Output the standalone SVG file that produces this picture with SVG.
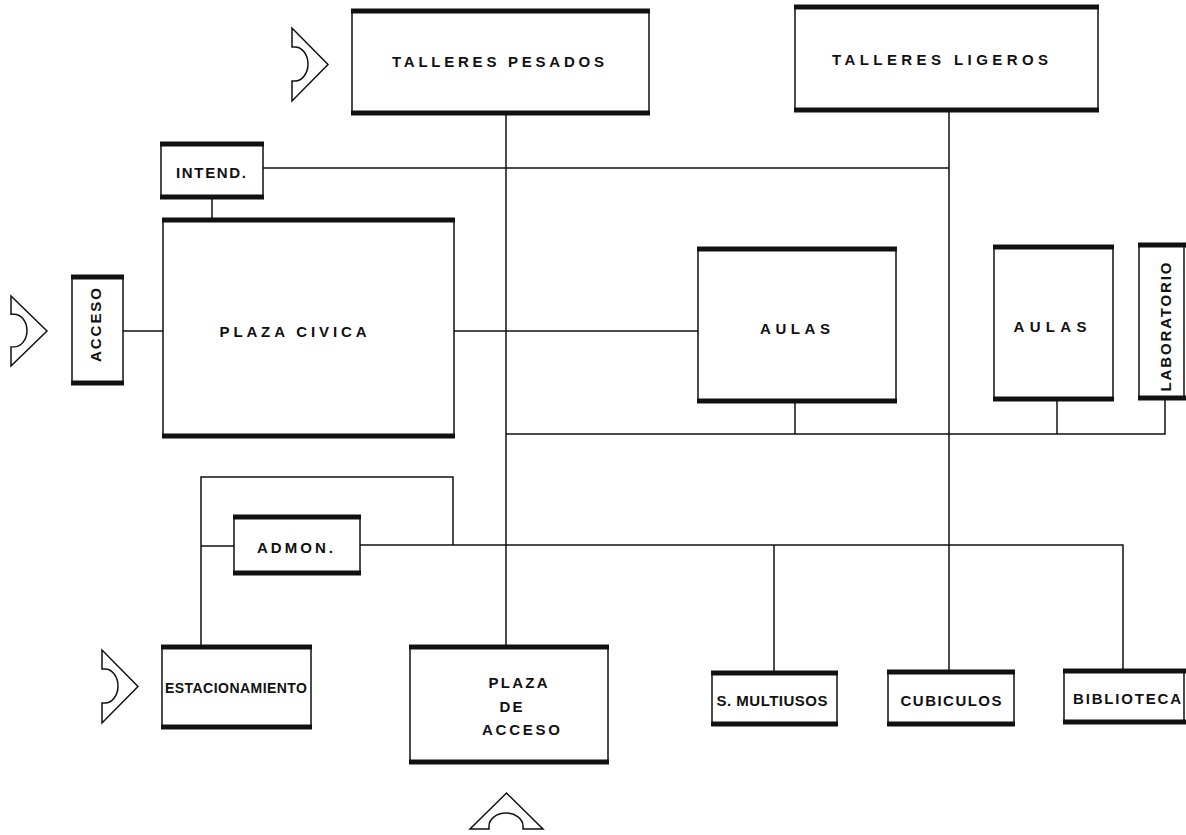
<svg xmlns="http://www.w3.org/2000/svg" width="1186" height="835" viewBox="0 0 1186 835">
<defs>
<style>
.box{fill:#fff;stroke:#111;stroke-width:1.5}
.bar{stroke:#111;stroke-width:5;stroke-linecap:butt}
.lbl{font-family:"Liberation Sans",Arial,sans-serif;font-weight:bold;font-size:15px;fill:#111;text-anchor:middle}
.cn{fill:none;stroke:#111;stroke-width:1.5}
.ent{fill:#fff;stroke:#111;stroke-width:1.5;stroke-linejoin:miter}
</style>
<path id="entry" d="M0,0 L0,19 L3,19 A13,17 0 0 1 3,53 L0,53 L0,73 L36,36.5 Z"/>
</defs>
<rect width="1186" height="835" fill="#fff"/>

<g id="connectors">
<path class="cn" d="M506,113 V647"/>
<path class="cn" d="M949,110 V672"/>
<path class="cn" d="M263,168 H949"/>
<path class="cn" d="M212,197 V220"/>
<path class="cn" d="M123,331 H163"/>
<path class="cn" d="M454,331 H698"/>
<path class="cn" d="M506,434 H1165 V398"/>
<path class="cn" d="M795,401 V434"/>
<path class="cn" d="M1057,399 V434"/>
<path class="cn" d="M201,647 V477 H453 V545"/>
<path class="cn" d="M201,546 H234"/>
<path class="cn" d="M360,545 H1123 V671"/>
<path class="cn" d="M774,545 V673"/>
</g>

<g id="entries">
<use href="#entry" class="ent" transform="translate(292,28)"/>
<use href="#entry" class="ent" transform="translate(11,296) scale(1,0.96)"/>
<use href="#entry" class="ent" transform="translate(102,650)"/>
<use href="#entry" class="ent" transform="translate(470,829) rotate(-90)"/>
</g>

<g id="talleres-pesados">
<rect class="box" x="352" y="11" width="297" height="102"/>
<line class="bar" x1="351" y1="11" x2="650" y2="11"/><line class="bar" x1="351" y1="113" x2="650" y2="113"/>
<text class="lbl" x="498" y="67" textLength="212" lengthAdjust="spacing">TALLERES PESADOS</text>
</g>

<g id="talleres-ligeros">
<rect class="box" x="795" y="7" width="303" height="103"/>
<line class="bar" x1="794" y1="7" x2="1099" y2="7"/><line class="bar" x1="794" y1="110" x2="1099" y2="110"/>
<text class="lbl" x="940" y="65" textLength="216" lengthAdjust="spacing">TALLERES LIGEROS</text>
</g>

<g id="intend">
<rect class="box" x="161" y="144" width="102" height="53"/>
<line class="bar" x1="160" y1="144" x2="264" y2="144"/><line class="bar" x1="160" y1="197" x2="264" y2="197"/>
<text class="lbl" x="211" y="178" textLength="70" lengthAdjust="spacing">INTEND.</text>
</g>

<g id="plaza-civica">
<rect class="box" x="163" y="220" width="291" height="216"/>
<line class="bar" x1="162" y1="220" x2="455" y2="220"/><line class="bar" x1="162" y1="436" x2="455" y2="436"/>
<text class="lbl" x="293" y="337" textLength="147" lengthAdjust="spacing">PLAZA  CIVICA</text>
</g>

<g id="acceso">
<rect class="box" x="72" y="277" width="51" height="106"/>
<line class="bar" x1="71" y1="277" x2="124" y2="277"/><line class="bar" x1="71" y1="383" x2="124" y2="383"/>
<text class="lbl" transform="translate(96,325) rotate(-90)" x="0" y="5" textLength="74" lengthAdjust="spacing">ACCESO</text>
</g>

<g id="aulas-1">
<rect class="box" x="698" y="249" width="198" height="152"/>
<line class="bar" x1="697" y1="249" x2="897" y2="249"/><line class="bar" x1="697" y1="401" x2="897" y2="401"/>
<text class="lbl" x="795" y="334" textLength="70" lengthAdjust="spacing">AULAS</text>
</g>

<g id="aulas-2">
<rect class="box" x="994" y="247" width="119" height="152"/>
<line class="bar" x1="993" y1="247" x2="1114" y2="247"/><line class="bar" x1="993" y1="399" x2="1114" y2="399"/>
<text class="lbl" x="1050" y="332" textLength="73" lengthAdjust="spacing">AULAS</text>
</g>

<g id="laboratorio">
<rect class="box" x="1139" y="245" width="45" height="153"/>
<line class="bar" x1="1138" y1="245" x2="1186" y2="245"/><line class="bar" x1="1138" y1="398" x2="1186" y2="398"/>
<text class="lbl" transform="translate(1166,327) rotate(-90)" x="0" y="5" textLength="129" lengthAdjust="spacing">LABORATORIO</text>
</g>

<g id="admon">
<rect class="box" x="234" y="517" width="126" height="56"/>
<line class="bar" x1="233" y1="517" x2="361" y2="517"/><line class="bar" x1="233" y1="573" x2="361" y2="573"/>
<text class="lbl" x="295" y="553" textLength="76" lengthAdjust="spacing">ADMON.</text>
</g>

<g id="estacionamiento">
<rect class="box" x="162" y="647" width="149" height="80"/>
<line class="bar" x1="161" y1="647" x2="312" y2="647"/><line class="bar" x1="161" y1="727" x2="312" y2="727"/>
<text class="lbl" style="font-size:14px" x="236" y="693" textLength="142" lengthAdjust="spacing">ESTACIONAMIENTO</text>
</g>

<g id="plaza-de-acceso">
<rect class="box" x="410" y="647" width="198" height="115"/>
<line class="bar" x1="409" y1="647" x2="609" y2="647"/><line class="bar" x1="409" y1="762" x2="609" y2="762"/>
<text class="lbl" x="518" y="688" textLength="59" lengthAdjust="spacing">PLAZA</text>
<text class="lbl" x="511" y="712" textLength="23" lengthAdjust="spacing">DE</text>
<text class="lbl" x="521" y="735" textLength="78" lengthAdjust="spacing">ACCESO</text>
</g>

<g id="s-multiusos">
<rect class="box" x="712" y="673" width="125" height="51"/>
<line class="bar" x1="711" y1="673" x2="838" y2="673"/><line class="bar" x1="711" y1="724" x2="838" y2="724"/>
<text class="lbl" x="772" y="706" textLength="111" lengthAdjust="spacing">S. MULTIUSOS</text>
</g>

<g id="cubiculos">
<rect class="box" x="888" y="672" width="126" height="52"/>
<line class="bar" x1="887" y1="672" x2="1015" y2="672"/><line class="bar" x1="887" y1="724" x2="1015" y2="724"/>
<text class="lbl" x="951" y="706" textLength="101" lengthAdjust="spacing">CUBICULOS</text>
</g>

<g id="biblioteca">
<rect class="box" x="1064" y="671" width="120" height="51"/>
<line class="bar" x1="1063" y1="671" x2="1186" y2="671"/><line class="bar" x1="1063" y1="722" x2="1186" y2="722"/>
<text class="lbl" x="1127" y="704" textLength="108" lengthAdjust="spacing">BIBLIOTECA</text>
</g>
</svg>
